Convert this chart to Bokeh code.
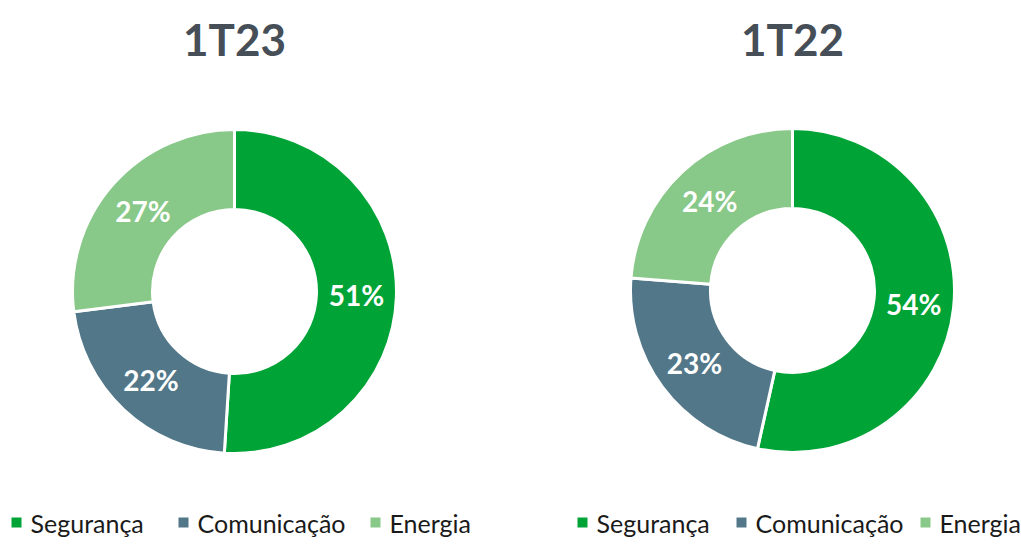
import math
from bokeh.plotting import figure
from bokeh.models import Range1d, ColumnDataSource
from bokeh.core.properties import value
from bokeh.embed import file_html
from bokeh.resources import INLINE

# ---- data ----
categories = ["Segurança", "Comunicação", "Energia"]
titles = ["1T23", "1T22"]
values_1t23 = [51, 22, 27]
values_1t22 = [54, 23, 24]
colors = ["#00A336", "#527789", "#88C888"]

W, H = 1021, 545
FONT = "Lato"

p = figure(width=W, height=H, output_backend="svg", toolbar_location=None,
           x_range=Range1d(0, W), y_range=Range1d(0, H),
           min_border=0, outline_line_color=None)
p.axis.visible = False
p.grid.visible = False
p.background_fill_color = "white"

def Y(page_y):
    return H - page_y

centers = [(234, 291), (792, 290)]
R_OUT, R_IN = 162, 82
legend_x = [[11, 178, 370], [577, 736, 920]]

for (cx, cy), title, vals, lx in zip(centers, titles, [values_1t23, values_1t22], legend_x):
    total = sum(vals)
    starts, ends, lxs, lys, labels = [], [], [], [], []
    cum = 0.0
    for v in vals:
        a0 = math.pi / 2 - 2 * math.pi * cum / total
        cum += v
        a1 = math.pi / 2 - 2 * math.pi * cum / total
        starts.append(a1)
        ends.append(a0)
        mid = (a0 + a1) / 2
        rm = (R_OUT + R_IN) / 2
        lxs.append(cx + rm * math.cos(mid))
        lys.append(Y(cy) + rm * math.sin(mid))
        labels.append(f"{v}%")
    src = ColumnDataSource(dict(start=starts, end=ends, color=colors,
                                x=[cx] * 3, y=[Y(cy)] * 3))
    p.annular_wedge(x="x", y="y", inner_radius=R_IN, outer_radius=R_OUT,
                    start_angle="start", end_angle="end", fill_color="color",
                    line_color="white", line_width=3, source=src)
    p.text(x=lxs, y=lys, text=labels, text_color="white",
           text_font=value(FONT), text_font_style="bold", text_font_size="28px",
           text_align="center", text_baseline="middle")
    p.text(x=[cx], y=[Y(38)], text=[title], text_color="#464E57",
           text_font=value(FONT), text_font_style="bold", text_font_size="44px",
           text_align="center", text_baseline="middle")
    # legend
    p.rect(x=[x + 5 for x in lx], y=[Y(522)] * 3, width=10, height=10,
           fill_color=colors, line_color=None)
    p.text(x=[x + 19 for x in lx], y=[Y(522)] * 3, text=categories,
           text_color="#1a1a1a", text_font=value(FONT), text_font_size="25px",
           text_align="left", text_baseline="middle")

open("out.html", "w").write(file_html(p, INLINE))
